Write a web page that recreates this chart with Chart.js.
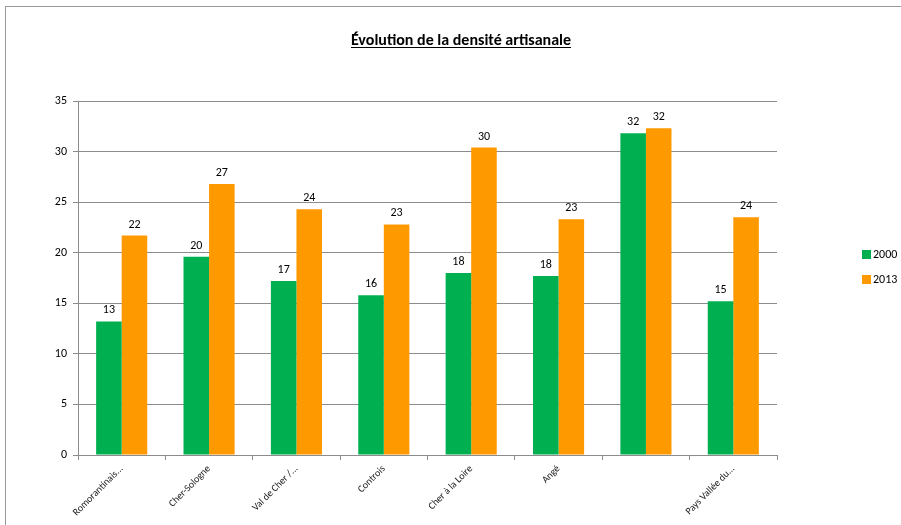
<!DOCTYPE html>
<html lang="fr">
<head>
<meta charset="utf-8">
<script src="https://cdn.jsdelivr.net/npm/chart.js@4.4.1/dist/chart.umd.min.js"></script>
<style>
  html, body { margin: 0; padding: 0; background: #fff; }
  #wrap { position: relative; width: 901px; height: 525px; overflow: hidden; }
  #frame {
    position: absolute; left: 5px; top: 6px; width: 920px; height: 540px;
    border-left: 1px solid #9a9a9a; border-top: 1px solid #9a9a9a;
    pointer-events: none;
  }
</style>
</head>
<body>
<div id="wrap">
  <canvas id="myChart" width="901" height="525"></canvas>
  <div id="frame"></div>
</div>
<script>
// data
const chartTitle = "Évolution de la densité artisanale";
const categories = [
  "Romorantinais...",
  "Cher-Sologne",
  "Val de Cher /...",
  "Controis",
  "Cher à la Loire",
  "Angé",
  "",
  "Pays Vallée du...",
];
const values2000 = [13.2, 19.6, 17.2, 15.8, 18.0, 17.7, 31.8, 15.2];
const values2013 = [21.7, 26.8, 24.3, 22.8, 30.4, 23.3, 32.3, 23.5];
const yTicks = [0, 5, 10, 15, 20, 25, 30, 35];

const FONT = "Carlito, Lato, sans-serif";

// draws the rounded value above every bar
const valueLabels = {
  id: "valueLabels",
  afterDatasetsDraw(chart) {
    const ctx = chart.ctx;
    ctx.save();
    ctx.font = "12px " + FONT;
    ctx.fillStyle = "#000";
    ctx.textAlign = "center";
    ctx.textBaseline = "alphabetic";
    chart.data.datasets.forEach((ds, i) => {
      chart.getDatasetMeta(i).data.forEach((bar, j) => {
        ctx.fillText(Math.round(ds.data[j]), bar.x, bar.y - 8);
      });
    });
    ctx.restore();
  },
};

// underlined title + legend on the right, like the Excel original
const titleAndLegend = {
  id: "titleAndLegend",
  afterDraw(chart) {
    const ctx = chart.ctx;
    ctx.save();
    ctx.font = "bold 16px " + FONT;
    ctx.fillStyle = "#000";
    ctx.textAlign = "center";
    ctx.textBaseline = "alphabetic";
    ctx.fillText(chartTitle, 461, 45);
    const w = ctx.measureText(chartTitle).width;
    ctx.fillRect(461 - w / 2, 47, w, 1);

    ctx.font = "12px " + FONT;
    ctx.textAlign = "left";
    ctx.textBaseline = "middle";
    chart.data.datasets.forEach((ds, i) => {
      const y = 255 + i * 25;
      ctx.fillStyle = ds.backgroundColor;
      ctx.fillRect(862, y - 5, 9, 9);
      ctx.fillStyle = "#000";
      ctx.fillText(ds.label, 873, y);
    });
    ctx.restore();
  },
};

const ctx = document.getElementById("myChart");
const myChart = new Chart(ctx, {
  type: "bar",
  data: {
    labels: categories,
    datasets: [
      {
        label: "2000",
        data: values2000,
        backgroundColor: "#00b050",
        categoryPercentage: 0.585,
        barPercentage: 1.0,
      },
      {
        label: "2013",
        data: values2013,
        backgroundColor: "#ff9900",
        categoryPercentage: 0.585,
        barPercentage: 1.0,
      },
    ],
  },
  options: {
    responsive: false,
    animation: false,
    devicePixelRatio: 1,
    layout: {
      padding: { top: 101, left: 18, right: 124, bottom: 0 },
    },
    plugins: {
      legend: { display: false },
      title: { display: false },
      tooltip: { enabled: false },
    },
    scales: {
      x: {
        grid: {
          drawOnChartArea: false,
          drawTicks: true,
          tickLength: 5,
          color: "#8c8c8c",
        },
        border: { color: "#8c8c8c" },
        ticks: {
          minRotation: 45,
          maxRotation: 45,
          autoSkip: false,
          color: "#222",
          font: { family: FONT, size: 10 },
          padding: 3,
        },
        afterFit: (scale) => {
          scale.height = 70;
        },
      },
      y: {
        min: 0,
        max: 35,
        afterBuildTicks: (scale) => {
          scale.ticks = yTicks.map((v) => ({ value: v }));
        },
        grid: {
          color: "#8c8c8c",
          tickLength: 5,
        },
        border: { color: "#8c8c8c" },
        ticks: {
          color: "#000",
          font: { family: FONT, size: 12 },
          padding: 6,
        },
        afterFit: (scale) => {
          scale.width = 60;
        },
      },
    },
  },
  plugins: [valueLabels, titleAndLegend],
});
</script>
</body>
</html>
